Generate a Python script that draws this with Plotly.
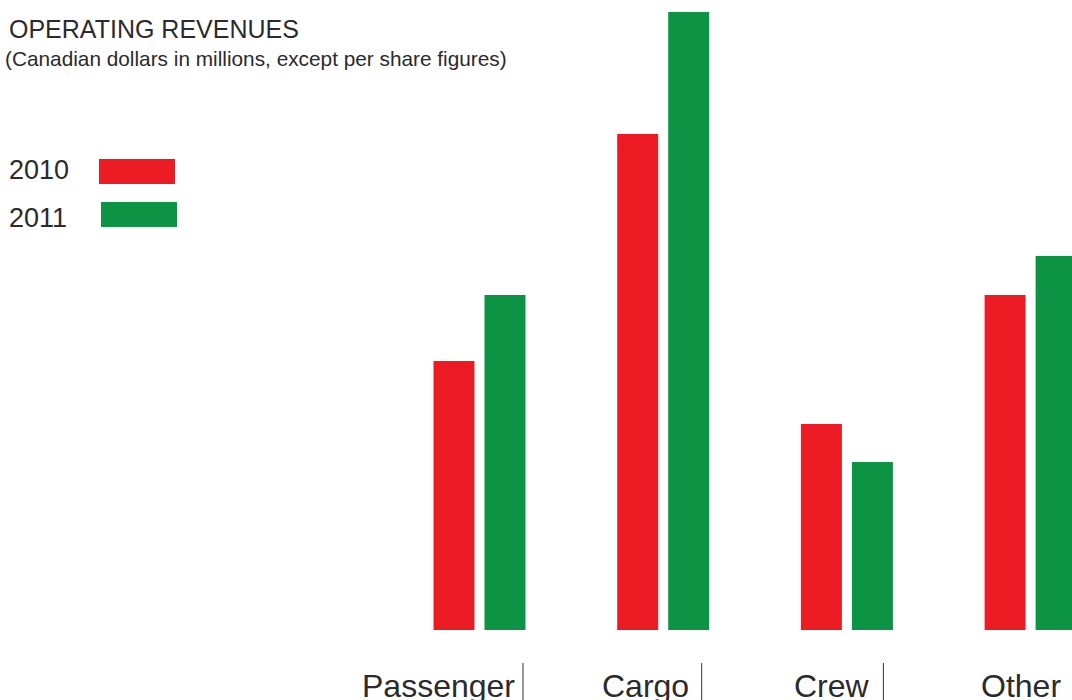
import plotly.graph_objects as go

# ---- data ----
categories = ["Passenger", "Cargo", "Crew", "Other"]
years = ["2010", "2011"]
values_2010 = [269, 496, 206, 335]
values_2011 = [335, 618, 168, 374]

# ---- style ----
W, H = 1072, 700
PLOT_H = 630
colors = {"2010": "#ED1C24", "2011": "#0C9444"}
text_color = "#2b2b2b"
font_family = "Liberation Sans, Arial, sans-serif"
cat_spacing_px = 183.7
first_center_px = 480
bar_w_px = 41
label_right_px = [37, 27, 25, 32]   # label right edge relative to group centre
sep_line_px = [43, 38, 36, None]     # separator line relative to group centre

def px_to_x(px):
    return (px - first_center_px) / cat_spacing_px

def px_to_paper_y(py):
    return (PLOT_H - py) / PLOT_H

xs = list(range(len(categories)))
fig = go.Figure()
fig.add_trace(go.Bar(x=xs, y=values_2010, name="2010",
                     marker_color=colors["2010"], marker_line_width=0,
                     width=bar_w_px / cat_spacing_px,
                     offset=-46.5 / cat_spacing_px))
fig.add_trace(go.Bar(x=xs, y=values_2011, name="2011",
                     marker_color=colors["2011"], marker_line_width=0,
                     width=bar_w_px / cat_spacing_px,
                     offset=4.5 / cat_spacing_px))

annotations = []
shapes = []
annotations.append(dict(text="OPERATING REVENUES", xref="paper", yref="paper",
                        x=7 / W, y=px_to_paper_y(29), xanchor="left", yanchor="middle",
                        showarrow=False, font=dict(size=25, color=text_color, family=font_family)))
annotations.append(dict(text="(Canadian dollars in millions, except per share figures)",
                        xref="paper", yref="paper", x=3 / W, y=px_to_paper_y(58),
                        xanchor="left", yanchor="middle", showarrow=False,
                        font=dict(size=20.8, color=text_color, family=font_family)))

legend_rows = [(years[0], 170, 99, 159), (years[1], 218, 101, 202)]
for yr, ty, rx, ry in legend_rows:
    annotations.append(dict(text=yr, xref="paper", yref="paper", x=7 / W, y=px_to_paper_y(ty),
                            xanchor="left", yanchor="middle", showarrow=False,
                            font=dict(size=27, color=text_color, family=font_family)))
    shapes.append(dict(type="rect", xref="paper", yref="paper",
                       x0=rx / W, x1=(rx + 76) / W,
                       y0=px_to_paper_y(ry + 25), y1=px_to_paper_y(ry),
                       fillcolor=colors[yr], line_width=0))

for i, cat in enumerate(categories):
    annotations.append(dict(text=cat, xref="x", yref="paper",
                            x=i + label_right_px[i] / cat_spacing_px, y=px_to_paper_y(686),
                            xanchor="right", yanchor="middle", showarrow=False,
                            font=dict(size=32, color=text_color, family=font_family)))
    if sep_line_px[i] is not None:
        lx = i + sep_line_px[i] / cat_spacing_px
        shapes.append(dict(type="line", xref="x", yref="paper", x0=lx, x1=lx,
                           y0=px_to_paper_y(663), y1=px_to_paper_y(700),
                           line=dict(color="#333333", width=1)))

fig.update_layout(
    width=W, height=H,
    margin=dict(l=0, r=0, t=0, b=H - PLOT_H, pad=0),
    paper_bgcolor="white", plot_bgcolor="white",
    showlegend=False,
    barmode="overlay",
    xaxis=dict(range=[px_to_x(0), px_to_x(W)], visible=False, fixedrange=True),
    yaxis=dict(range=[0, PLOT_H], visible=False, fixedrange=True),
    annotations=annotations, shapes=shapes,
)

fig.write_html("out.html", config={"displayModeBar": False},
               post_script="document.body.style.margin='0';document.body.style.overflow='hidden';")
